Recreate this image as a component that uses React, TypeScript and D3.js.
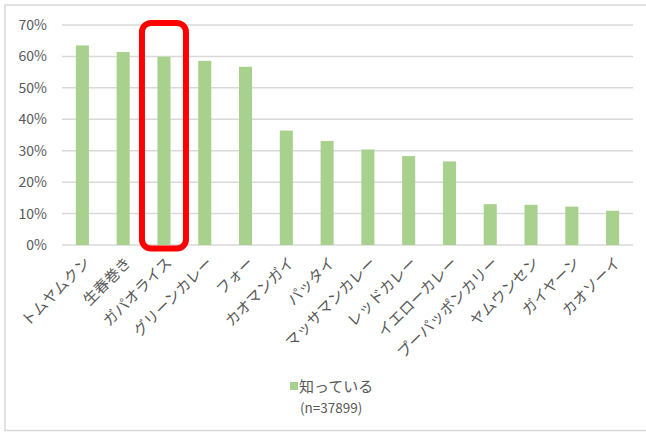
import React from "react";
import * as d3 from "d3";

const categories = [
  "トムヤムクン", "生春巻き", "ガパオライス", "グリーンカレー", "フォー", "カオマンガイ", "パッタイ",
  "マッサマンカレー", "レッドカレー", "イエローカレー", "プーパッポンカリー", "ヤムウンセン", "ガイヤーン", "カオソーイ",
];
const values = [63.5, 61.4, 59.9, 58.6, 56.7, 36.4, 33.1, 30.4, 28.3, 26.6, 13.0, 12.8, 12.2, 10.9];
const yTicks = [0, 10, 20, 30, 40, 50, 60, 70];
const seriesName = "知っている";
const sampleNote = "(n=37899)";
const highlighted = "ガパオライス";

const W = 646, H = 432;
const left = 62, right = 633, top = 25, bottom = 245;
const font = "'Noto Sans CJK JP', 'Noto Sans', sans-serif";
const textColor = "#595959";

export default function App() {
  const x = d3.scaleBand<string>().domain(categories).range([left, right]).paddingInner(0.68).paddingOuter(0.34);
  const y = d3.scaleLinear().domain([0, 70]).range([bottom, top]);
  const bw = x.bandwidth();
  const hx = (x(highlighted) as number) + bw / 2;
  return (
    <svg width={W} height={H} style={{ position: "absolute", left: 0, top: 0, background: "#fff" }}>
      <rect x={5} y={5} width={660} height={425.5} fill="#fff" stroke="#d9d9d9" strokeWidth={1.5} />
      {yTicks.map((t) => (
        <g key={t}>
          <line x1={left} x2={right} y1={y(t)} y2={y(t)} stroke="#d9d9d9" strokeWidth={1.5} />
          <text x={47} y={y(t)} dy="0.36em" textAnchor="end" fontFamily={font} fontSize={14} fill={textColor}>
            {t}%
          </text>
        </g>
      ))}
      {categories.map((c, i) => (
        <rect key={c} x={x(c)} y={y(values[i])} width={bw} height={y(0) - y(values[i])} fill="#a9d18e" />
      ))}
      {categories.map((c) => {
        const cx = (x(c) as number) + bw / 2;
        return (
          <text
            key={c}
            transform={`translate(${cx + 5},${bottom + 15}) rotate(-45)`}
            textAnchor="end"
            dy="0.35em"
            fontFamily={font}
            fontSize={15}
            fill={textColor}
          >
            {c}
          </text>
        );
      })}
      <rect x={hx - 22} y={23} width={44} height={225.5} rx={9} ry={9} fill="none" stroke="#ff0000" strokeWidth={6} />
      <rect x={290} y={382} width={8} height={8} fill="#a9d18e" />
      <text x={299} y={392} fontFamily={font} fontSize={15} fill={textColor}>{seriesName}</text>
      <text x={300} y={413} fontFamily={font} fontSize={13.5} fill={textColor}>{sampleNote}</text>
    </svg>
  );
}
